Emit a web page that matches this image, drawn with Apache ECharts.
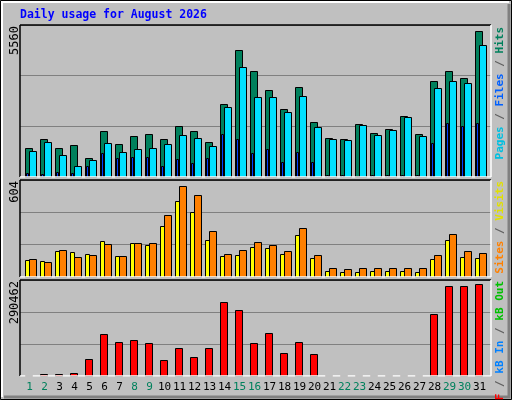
<!DOCTYPE html>
<html><head><meta charset="utf-8">
<script src="https://cdn.jsdelivr.net/npm/echarts@6/dist/echarts.min.js"></script>
<style>html,body{margin:0;padding:0;background:#C0C0C0}#c{width:512px;height:400px}</style>
</head><body><div id="c"></div>
<script>
const days = Array.from({length:31},(_,i)=>i+1);
const weekend = [1,2,8,9,15,16,22,23,29,30];
const hits = [1067,1394,1067,1176,703,1684,1212,1503,1575,1394,1866,1684,1285,2666,4628,3865,3174,2484,3283,2011,1430,1394,1939,1612,1757,2229,1575,3501,3865,3610,5355];
const files = [957,1285,812,412,630,1248,921,1030,1067,1212,1539,1430,1139,2556,4010,2920,2920,2375,2956,1830,1394,1357,1902,1539,1721,2193,1503,3247,3501,3429,4846];
const pages = [158,122,194,158,412,885,703,740,740,412,667,521,703,1575,1394,885,1030,558,921,558,60,60,50,60,60,60,60,1248,1975,1866,1975];
const visits = [108,102,163,157,145,224,132,212,200,315,474,407,230,132,139,187,181,145,261,120,35,29,29,35,35,35,29,114,230,126,120];
const sites = [114,96,169,126,139,206,132,212,212,383,566,511,285,145,169,218,200,163,303,139,53,47,53,53,53,59,53,139,267,163,151];
const kbytes = [4000,7300,7300,10400,50000,126000,102000,108000,99000,47000,86000,59000,86000,223500,199000,99000,129000,71000,102000,68000,2000,2000,2000,2000,2000,2000,2000,187000,272000,272000,278000];
const maxHits = 5560, maxVisits = 604, maxKB = 290462;

const chart = echarts.init(document.getElementById('c'));
const grids = [{top:25,height:152},{top:180,height:97},{top:280,height:96}];
const XMIN = 1 - 9.5/15, XMAX = 31 + 11.5/15;
function xAx(i, labels){
  return {type:'value', gridIndex:i, min:XMIN, max:XMAX, axisLine:{show:false}, splitLine:{show:false},
    axisTick:{show:false},
    axisLabel: labels ? {show:true, customValues:days, margin:6, fontFamily:'DejaVu Sans Mono', fontSize:11,
      formatter:v=>weekend.includes(v)?'{g|'+v+'}':'{k|'+v+'}',
      rich:{g:{color:'#00805C',fontFamily:'DejaVu Sans Mono',fontSize:11},k:{color:'#000',fontFamily:'DejaVu Sans Mono',fontSize:11}}} : {show:false}};
}
function yAx(i,max){
  return {type:'value', gridIndex:i, min:0, max:max, interval:max/3, axisLabel:{show:false}, axisLine:{show:false}, axisTick:{show:false},
    splitLine:{show:true, lineStyle:{color:'#808080', width:1}}};
}
function bars(i, data, off, w, color, z){
  return {type:'custom', xAxisIndex:i, yAxisIndex:i, z:z,
    data: data.map((v,k)=>[days[k], v]),
    renderItem:(p,api)=>{
      const top = api.coord([api.value(0), api.value(1)]);
      const base = api.coord([api.value(0), 0]);
      return {type:'rect', shape:{x:Math.round(top[0]+off)+0.5, y:Math.round(top[1])+0.5, width:w, height:Math.round(base[1]-top[1])},
        style:{fill:color, stroke:'#000', lineWidth:1}};
    }};
}
function vtext(x,y,rich,txt){
  return {type:'text', x:x, y:y, rotation:Math.PI/2, z:10,
    style:{text:txt, rich:rich, align:'right', verticalAlign:'middle', font:'bold 11px "DejaVu Sans Mono"'}};
}
const mono = {fontFamily:'DejaVu Sans Mono', fontSize:11, fontWeight:'bold'};
function panelFrame(g){
  const l=20, r=491, t=g.top, b=g.top+g.height;
  return [
    {type:'line', shape:{x1:l,y1:t,x2:r,y2:t}, style:{stroke:'#000',lineWidth:1.5}, z:5},
    {type:'line', shape:{x1:l,y1:t,x2:l,y2:b}, style:{stroke:'#000',lineWidth:1.5}, z:5},
    {type:'line', shape:{x1:l,y1:b,x2:r,y2:b}, style:{stroke:'#fff',lineWidth:1.5}, z:5},
    {type:'line', shape:{x1:r,y1:t,x2:r,y2:b}, style:{stroke:'#fff',lineWidth:1.5}, z:5}
  ];
}
chart.setOption({
  animation:false,
  backgroundColor:'#C0C0C0',
  grid: grids.map(g=>({left:20, right:21, top:g.top, height:g.height})),
  xAxis:[xAx(0,false), xAx(1,false), xAx(2,true)],
  yAxis:[yAx(0,maxHits), yAx(1,maxVisits), yAx(2,maxKB)],
  series:[
    bars(0,hits,-4.5,7,'#00805C',2),
    bars(0,files,-0.5,7,'#00E0FF',3),
    bars(0,pages,-3.5,2,'#0040FF',4),
    bars(1,visits,-4.5,4,'#FFFF00',2),
    bars(1,sites,-0.5,7,'#FF8000',3),
    bars(2,kbytes,-4.5,7,'#FF0000',2)
  ],
  graphic:[
    {type:'rect', shape:{x:0.5,y:0.5,width:511,height:399}, style:{fill:'none',stroke:'#000',lineWidth:1}, z:1},
    {type:'polyline', shape:{points:[[2,397],[2,2],[509,2]]}, style:{stroke:'#fff',fill:'none',lineWidth:2}, z:1},
    {type:'polyline', shape:{points:[[4,397],[509,397],[509,4]]}, style:{stroke:'#808080',fill:'none',lineWidth:3}, z:1},
    {type:'text', x:20, y:15, z:10, style:{text:'Daily usage for August 2026', fill:'#0000FF', font:'bold 11.5px "DejaVu Sans Mono"', verticalAlign:'middle'}},
    {type:'text', x:15, y:26, rotation:Math.PI/2, z:10, style:{text:String(maxHits), fill:'#000', font:'12px "DejaVu Sans Mono"', align:'right', verticalAlign:'middle'}},
    {type:'text', x:15, y:181, rotation:Math.PI/2, z:10, style:{text:String(maxVisits), fill:'#000', font:'12px "DejaVu Sans Mono"', align:'right', verticalAlign:'middle'}},
    {type:'text', x:15, y:281, rotation:Math.PI/2, z:10, style:{text:String(maxKB), fill:'#000', font:'12px "DejaVu Sans Mono"', align:'right', verticalAlign:'middle'}},
    vtext(500,27,{p:Object.assign({fill:'#00C0E0'},mono),s:Object.assign({fill:'#606060'},mono),f:Object.assign({fill:'#0060FF'},mono),h:Object.assign({fill:'#00805C'},mono)},'{p|Pages}{s| / }{f|Files}{s| / }{h|Hits}'),
    vtext(500,181,{v:Object.assign({fill:'#E0E000'},mono),s:Object.assign({fill:'#606060'},mono),o:Object.assign({fill:'#FF8000'},mono)},'{o|Sites}{s| / }{v|Visits}'),
    vtext(500,281,{r:Object.assign({fill:'#FF0000'},mono),s:Object.assign({fill:'#606060'},mono),b:Object.assign({fill:'#0080FF'},mono),g:Object.assign({fill:'#00C000'},mono)},'{r|kB F}{s| / }{b|kB In}{s| / }{g|kB Out}')
  ].concat(...grids.map(panelFrame))
});
</script></body></html>
